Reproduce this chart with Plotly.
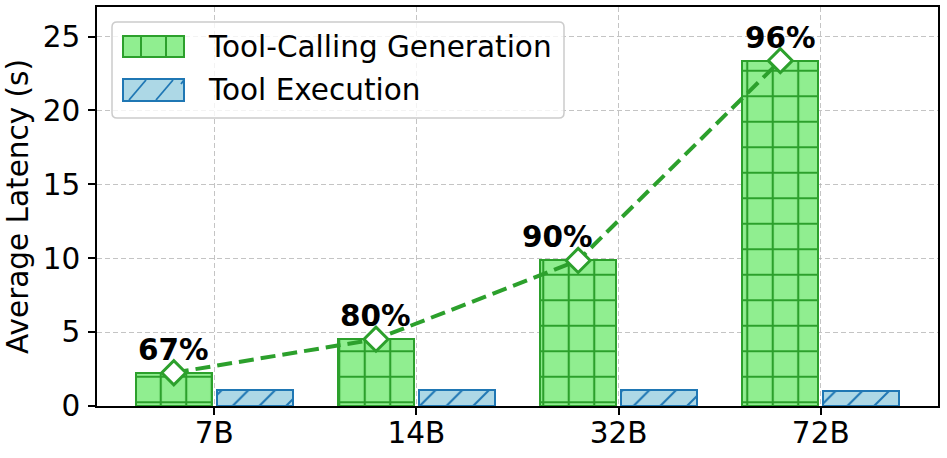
import plotly.graph_objects as go

# ---- data ----
categories = ["7B", "14B", "32B", "72B"]
gen_latency = [2.25, 4.52, 9.85, 23.37]
exec_latency = [1.05, 1.08, 1.06, 1.04]
success_labels = ["67%", "80%", "90%", "96%"]
series_names = ["Tool-Calling Generation", "Tool Execution"]

# ---- layout constants (pixels) ----
W, H = 947, 458
L, R, T, B = 97, 938, 7, 406
FONT = "DejaVu Sans"
FS = 29.5

GREEN_FILL, GREEN_EDGE = "#90EE90", "#2ca02c"
BLUE_FILL, BLUE_EDGE = "#ADD8E6", "#1f77b4"

idx = list(range(len(categories)))
x_gen = [i - 0.2 for i in idx]
x_exe = [i + 0.2 for i in idx]
BAR_W = 0.375

fig = go.Figure()
fig.add_trace(go.Bar(
    x=x_gen, y=gen_latency, width=BAR_W, name=series_names[0], showlegend=False,
    marker=dict(color=GREEN_FILL, line=dict(color=GREEN_EDGE, width=2),
                pattern=dict(shape="+", size=25.5, solidity=0.16, fgcolor=GREEN_EDGE,
                             bgcolor=GREEN_FILL, fillmode="replace")),
))
fig.add_trace(go.Bar(
    x=x_exe, y=exec_latency, width=BAR_W, name=series_names[1], showlegend=False,
    marker=dict(color=BLUE_FILL, line=dict(color=BLUE_EDGE, width=2),
                pattern=dict(shape="/", size=18.9, solidity=0.11, fgcolor=BLUE_EDGE,
                             bgcolor=BLUE_FILL, fillmode="replace")),
))
fig.add_trace(go.Scatter(
    x=x_gen, y=gen_latency, mode="lines+markers", showlegend=False,
    line=dict(color=GREEN_EDGE, width=4, dash="15px,7px"),
    marker=dict(symbol="diamond", size=18.5, color="white",
                line=dict(color=GREEN_EDGE, width=3)),
))

label_xshift = [0, 0, -21, 0]
for xi, yi, lab, dx in zip(x_gen, gen_latency, success_labels, label_xshift):
    fig.add_annotation(x=xi, y=yi, text=f"<b>{lab}</b>", showarrow=False,
                       xanchor="center", yanchor="middle", yshift=23, xshift=dx,
                       font=dict(family=FONT, size=FS, color="black"))

# ---- custom legend (matplotlib style) ----
def px(x):
    return (x - L) / (R - L)

def py(y):
    return (B - y) / (B - T)

def rounded_rect(x0, y0, x1, y1, r):
    return (f"M {px(x0 + r)},{py(y0)} L {px(x1 - r)},{py(y0)} "
            f"Q {px(x1)},{py(y0)} {px(x1)},{py(y0 + r)} "
            f"L {px(x1)},{py(y1 - r)} Q {px(x1)},{py(y1)} {px(x1 - r)},{py(y1)} "
            f"L {px(x0 + r)},{py(y1)} Q {px(x0)},{py(y1)} {px(x0)},{py(y1 - r)} "
            f"L {px(x0)},{py(y0 + r)} Q {px(x0)},{py(y0)} {px(x0 + r)},{py(y0)} Z")

shapes = []
shapes.append(dict(type="path", xref="paper", yref="paper", layer="above",
                   path=rounded_rect(112, 22, 564, 118, 5),
                   fillcolor="rgba(255,255,255,0.8)",
                   line=dict(color="#cccccc", width=1.5)))
# green patch
shapes.append(dict(type="rect", xref="paper", yref="paper", layer="above",
                   x0=px(123), x1=px(184), y0=py(57), y1=py(36),
                   fillcolor=GREEN_FILL, line=dict(color=GREEN_EDGE, width=2)))
for xv in (141, 166):
    shapes.append(dict(type="line", xref="paper", yref="paper", layer="above",
                       x0=px(xv), x1=px(xv), y0=py(57), y1=py(36),
                       line=dict(color=GREEN_EDGE, width=2)))
# blue patch
shapes.append(dict(type="rect", xref="paper", yref="paper", layer="above",
                   x0=px(123), x1=px(184), y0=py(101), y1=py(79),
                   fillcolor=BLUE_FILL, line=dict(color=BLUE_EDGE, width=2)))
for xb in (129, 156):
    shapes.append(dict(type="line", xref="paper", yref="paper", layer="above",
                       x0=px(xb), x1=px(xb + 17), y0=py(100), y1=py(80),
                       line=dict(color=BLUE_EDGE, width=1.8)))
shapes.append(dict(type="line", xref="paper", yref="paper", layer="above",
                   x0=px(181), x1=px(184), y0=py(84), y1=py(80),
                   line=dict(color=BLUE_EDGE, width=1.8)))

for name, yc in zip(series_names, (46.5, 90)):
    fig.add_annotation(xref="paper", yref="paper", x=px(206), y=py(yc),
                       text=name, showarrow=False, xanchor="left", yanchor="middle",
                       font=dict(family=FONT, size=FS, color="black"))

grid = dict(showgrid=True, gridcolor="rgba(176,176,176,0.75)", gridwidth=1, griddash="5px,3px")
fig.update_layout(
    width=W, height=H,
    margin=dict(l=L, r=W - R, t=T, b=H - B, autoexpand=False),
    plot_bgcolor="white", paper_bgcolor="white",
    font=dict(family=FONT, size=FS, color="black"),
    shapes=shapes,
    bargap=0,
    xaxis=dict(range=[-0.58, 3.58], tickmode="array", tickvals=idx, ticktext=categories,
               showline=True, linecolor="black", linewidth=1.5, mirror=True,
               ticks="outside", ticklen=7, tickwidth=1.5, tickcolor="black",
               ticklabelstandoff=-7,
               zeroline=False, automargin=False, **grid),
    yaxis=dict(range=[0, 27.0], tickmode="array", tickvals=[0, 5, 10, 15, 20, 25],
               showline=True, linecolor="black", linewidth=1.5, mirror=True,
               ticks="outside", ticklen=7, tickwidth=1.5, tickcolor="black",
               ticklabelstandoff=2,
               zeroline=False, automargin=False,
               title=dict(text="Average Latency (s)", font=dict(family=FONT, size=FS), standoff=5),
               **grid),
)

fig.write_html("out.html")
